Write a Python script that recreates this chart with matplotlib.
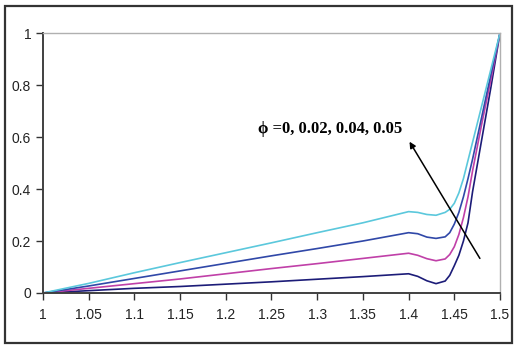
import numpy as np
import matplotlib.pyplot as plt
from matplotlib.patches import Rectangle

# profili per i quattro valori di phi
x = [1.0, 1.05, 1.1, 1.15, 1.2, 1.25, 1.3, 1.35, 1.4, 1.41, 1.42, 1.43, 1.44,
     1.445, 1.45, 1.455, 1.46, 1.465, 1.47, 1.48, 1.49, 1.5]
y_phi0 = [0, 0.009, 0.018, 0.025, 0.034, 0.043, 0.053, 0.063, 0.074, 0.064,
          0.047, 0.036, 0.046, 0.068, 0.105, 0.145, 0.20, 0.27, 0.39, 0.59, 0.79, 1.0]
y_phi002 = [0, 0.018, 0.036, 0.054, 0.074, 0.094, 0.113, 0.133, 0.153, 0.145,
            0.132, 0.124, 0.131, 0.148, 0.178, 0.225, 0.29, 0.37, 0.47, 0.65, 0.82, 1.0]
y_phi004 = [0, 0.027, 0.056, 0.085, 0.114, 0.143, 0.171, 0.200, 0.232, 0.228,
            0.215, 0.210, 0.216, 0.232, 0.265, 0.31, 0.37, 0.44, 0.515, 0.677, 0.84, 1.0]
y_phi005 = [0, 0.037, 0.078, 0.117, 0.155, 0.193, 0.232, 0.270, 0.313, 0.310,
            0.302, 0.299, 0.310, 0.322, 0.345, 0.385, 0.44, 0.51, 0.58, 0.72, 0.86, 1.0]

xticks = [1, 1.05, 1.1, 1.15, 1.2, 1.25, 1.3, 1.35, 1.4, 1.45, 1.5]
xlabels = ['1', '1.05', '1.1', '1.15', '1.2', '1.25', '1.3', '1.35', '1.4', '1.45', '1.5']
yticks = [0, 0.2, 0.4, 0.6, 0.8, 1]
ylabels = ['0', '0.2', '0.4', '0.6', '0.8', '1']

plt.rcParams['font.family'] = 'Liberation Sans'

fig = plt.figure(figsize=(5.17, 3.46), dpi=100)
ax = fig.add_axes([43/517, 1-293/346, 457/517, 260/346])

# cornice esterna
fig.patches.append(Rectangle((5/517, 3/346), 507/517, 337/346, transform=fig.transFigure,
                             fill=False, edgecolor='#333333', linewidth=1.6))

ax.plot(x, y_phi0, color='#1c1c78', lw=1.2)
ax.plot(x, y_phi002, color='#c040a8', lw=1.2)
ax.plot(x, y_phi004, color='#3048a8', lw=1.2)
ax.plot(x, y_phi005, color='#5bc8dc', lw=1.2)

ax.set_xlim(1, 1.5)
ax.set_ylim(0, 1)
ax.set_xticks(xticks)
ax.set_xticklabels(xlabels)
ax.set_yticks(yticks)
ax.set_yticklabels(ylabels)
ax.tick_params(direction='out', length=5, width=1, colors='#333333', labelsize=10,
               labelcolor='#222222')
ax.tick_params(axis='x', pad=6)

for s in ['left', 'bottom']:
    ax.spines[s].set_color('#404040')
    ax.spines[s].set_linewidth(1.4)
for s in ['top', 'right']:
    ax.spines[s].set_color('#b0b0b0')
    ax.spines[s].set_linewidth(1.0)

ax.annotate('', xy=(1.401, 0.582), xytext=(1.478, 0.133),
            arrowprops=dict(arrowstyle='-|>', color='black', lw=1.1,
                            mutation_scale=9, shrinkA=0, shrinkB=0))
ax.text(1.235, 0.63, '\u03d5 =0, 0.02, 0.04, 0.05', fontsize=12, fontweight='bold',
        family=['Liberation Serif', 'DejaVu Serif'], va='center', ha='left')

fig.savefig('out.png', dpi=100)
